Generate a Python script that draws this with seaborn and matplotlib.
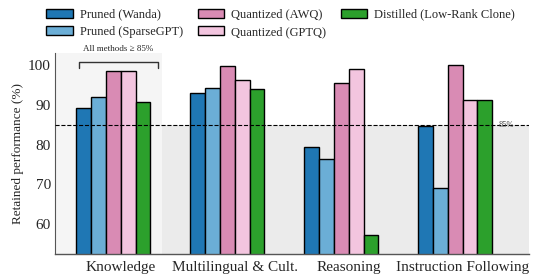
import matplotlib
matplotlib.use("Agg")
import matplotlib.pyplot as plt
import seaborn as sns
import pandas as pd
import numpy as np

categories = ["Knowledge", "Multilingual & Cult.", "Reasoning", "Instruction Following"]
methods = ["Pruned (Wanda)", "Pruned (SparseGPT)", "Quantized (AWQ)", "Quantized (GPTQ)", "Distilled (Low-Rank Clone)"]
wanda = [89.1, 92.9, 79.3, 84.6]
sparsegpt = [91.9, 94.2, 76.5, 69.1]
awq = [98.6, 99.7, 95.4, 100.1]
gptq = [98.6, 96.2, 99.1, 91.2]
lrc = [90.8, 94.1, 57.4, 91.2]
colors = ["#1f77b4", "#6baed6", "#d98bb4", "#f3c5df", "#2ca02c"]
threshold = 85

rows = []
for m, vals in zip(methods, [wanda, sparsegpt, awq, gptq, lrc]):
    for c, v in zip(categories, vals):
        rows.append({"category": c, "method": m, "value": v})
df = pd.DataFrame(rows)

sns.set_style("white")
plt.rcParams["font.family"] = ["Liberation Serif", "DejaVu Serif"]

fig = plt.figure(figsize=(5.39, 2.78), dpi=100)
ax = fig.add_axes([0.102, 0.086, 0.879, 0.723])

ylo, yhi = 52.5, 103
xlo, xhi = -0.513, 3.645
ax.axhspan(ylo, threshold, color="#ebebeb", zorder=0, lw=0)
ax.axvspan(xlo, 0.43, color="#f5f5f5", zorder=0.5, lw=0)

sns.barplot(data=df, x="category", y="value", hue="method", hue_order=methods,
            order=categories, palette=colors, width=0.65, edgecolor="black",
            linewidth=1.0, saturation=1, ax=ax, zorder=2, legend=True)

ax.axhline(threshold, color="black", ls="--", lw=0.8, zorder=3)
ax.text(3.38, threshold, "85%", fontsize=6, color="#444444", va="center", ha="left", zorder=4)

# bracket over Knowledge
bx0, bx1, btop, bbot = -0.30, 0.39, 100.8, 99.2
ax.plot([bx0, bx0, bx1, bx1], [bbot, btop, btop, bbot], color="#333333", lw=1.0, zorder=4, clip_on=False)
ax.text((bx0 + bx1) / 2, 102.9, "All methods \u2265 85%", fontsize=6.5, ha="center", va="bottom", clip_on=False)

ax.set_xlim(xlo, xhi)
ax.set_ylim(ylo, yhi)
ax.set_yticks([60, 70, 80, 90, 100])
w = 0.65 / 5
ax.set_xticks(np.arange(len(categories)) + w / 2)
ax.set_xticklabels(categories, fontsize=11)
ax.tick_params(axis="y", labelsize=11, length=0, pad=3)
ax.tick_params(axis="x", length=3, width=0.8, color="#555555", pad=2)
ax.set_xlabel("")
ax.set_ylabel("Retained performance (%)", fontsize=9.5, labelpad=3)
for s in ["top", "right"]:
    ax.spines[s].set_visible(False)
ax.spines["left"].set_color("#555555")
ax.spines["bottom"].set_color("#555555")
ax.spines["left"].set_linewidth(0.8)
ax.spines["bottom"].set_linewidth(1.0)

handles, labels = ax.get_legend_handles_labels()
ax.get_legend().remove()
fig.legend(handles, labels, loc="upper left", bbox_to_anchor=(0.065, 1.01), ncol=3,
           frameon=False, fontsize=9, handlelength=2.1, handleheight=0.75,
           columnspacing=1.15, handletextpad=0.6, labelspacing=0.45)

fig.savefig("out.png", dpi=100)
